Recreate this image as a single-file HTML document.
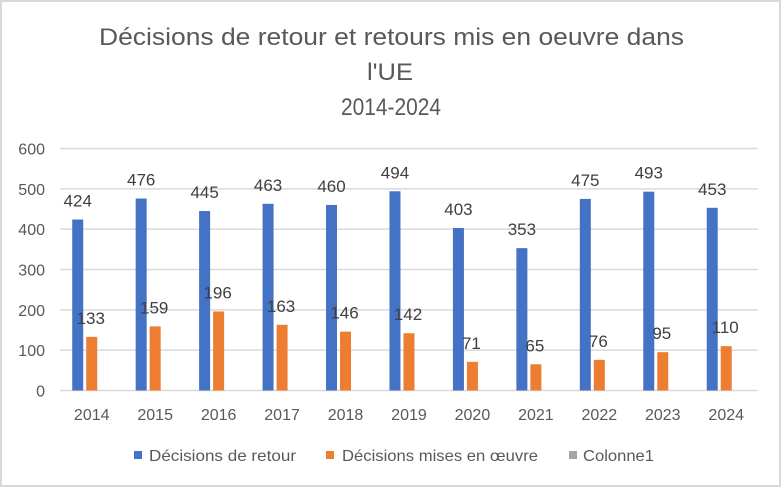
<!DOCTYPE html>
<html><head><meta charset="utf-8"><style>
html,body{margin:0;padding:0;background:#fff;}
svg{display:block;font-family:"Liberation Sans",sans-serif;}
</style></head><body>
<svg id="s" width="782" height="488" viewBox="0 0 782 488" xmlns="http://www.w3.org/2000/svg">
<rect x="1" y="1" width="779" height="485" fill="#fff" stroke="#d9d9d9" stroke-width="2"/>
<g fill="#595959" font-size="24" text-anchor="middle">
<text x="391.5" y="45" textLength="585" lengthAdjust="spacingAndGlyphs">Décisions de retour et retours mis en oeuvre dans</text>
<text x="390" y="80" textLength="46" lengthAdjust="spacingAndGlyphs">l'UE</text>
<text x="391" y="115" textLength="100" lengthAdjust="spacingAndGlyphs">2014-2024</text>
</g>
<g id="grid" stroke="#d9d9d9" stroke-width="1.5"></g>
<g id="yl" fill="#595959" font-size="16" text-anchor="end"></g>
<g id="bars"></g>
<g id="xl" fill="#595959" font-size="16" text-anchor="middle"></g>
<g font-size="16" fill="#595959">
<rect x="134" y="451" width="8" height="8" fill="#4472c4"/>
<text x="149" y="461" textLength="147" lengthAdjust="spacingAndGlyphs">Décisions de retour</text>
<rect x="326" y="451" width="8" height="8" fill="#ed7d31"/>
<text x="342" y="461" textLength="196" lengthAdjust="spacingAndGlyphs">Décisions mises en œuvre</text>
<rect x="569" y="451" width="8" height="8" fill="#a5a5a5"/>
<text x="583" y="461" textLength="71" lengthAdjust="spacingAndGlyphs">Colonne1</text>
</g>
</svg>
<script>
var NS="http://www.w3.org/2000/svg";
function el(p,t,a,txt){var e=document.createElementNS(NS,t);for(var k in a)e.setAttribute(k,a[k]);if(txt!=null)e.textContent=txt;document.getElementById(p).appendChild(e);}
var y0=390.5,sc=0.4033;
for(var i=0;i<=6;i++){var y=y0-i*100*sc;el("grid","line",{x1:60,x2:758,y1:y,y2:y});el("yl","text",{x:45,y:y+6},String(i*100));}
var B=[424,476,445,463,460,494,403,353,475,493,453],O=[133,159,196,163,146,142,71,65,76,95,110];
for(var i=0;i<11;i++){var c=60+(i+0.5)*63.45;
var hb=B[i]*sc,ho=O[i]*sc;
el("bars","rect",{x:c-19.5,y:y0-hb,width:11,height:hb,fill:"#4472c4"});
el("bars","rect",{x:c-5.5,y:y0-ho,width:11,height:ho,fill:"#ed7d31"});
el("bars","text",{x:c-14,y:y0-hb-13,"font-size":17,fill:"#404040","text-anchor":"middle"},String(B[i]));
el("bars","text",{x:c-1,y:y0-ho-13,"font-size":17,fill:"#404040","text-anchor":"middle"},String(O[i]));
el("xl","text",{x:c,y:420},String(2014+i));}
</script>
</body></html>
